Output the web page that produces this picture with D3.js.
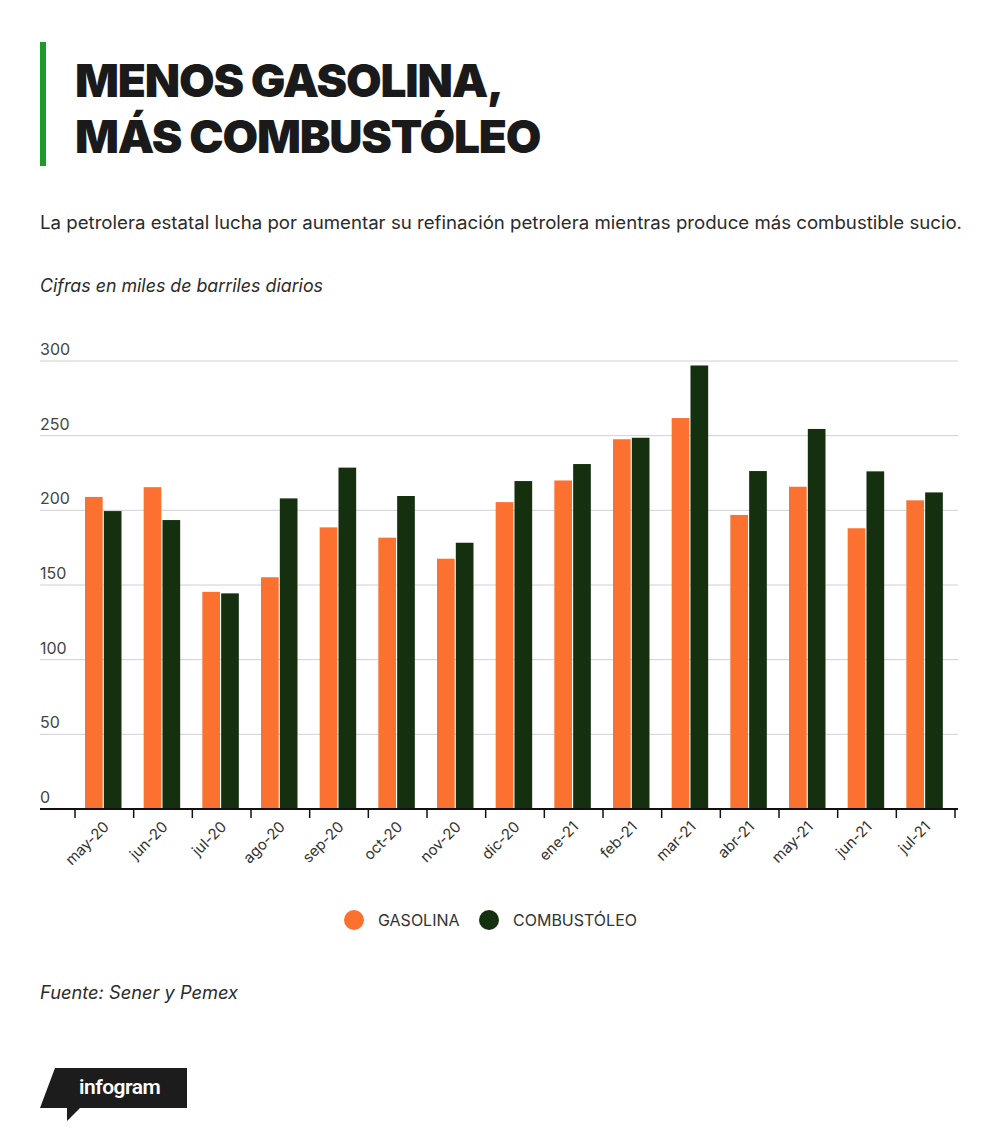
<!DOCTYPE html>
<html>
<head>
<meta charset="utf-8">
<script src="https://cdn.jsdelivr.net/npm/d3@7"></script>
<style>
  body { margin: 0; background: #fff; }
  svg { display: block; font-family: Inter, "Noto Sans", sans-serif; }
</style>
</head>
<body>
<svg id="chart" width="1000" height="1141"></svg>
<script>
// data (miles de barriles diarios)
const months = ['may-20','jun-20','jul-20','ago-20','sep-20','oct-20','nov-20','dic-20',
                'ene-21','feb-21','mar-21','abr-21','may-21','jun-21','jul-21'];
const gasolina     = [209, 215.5, 145.4, 155.2, 188.6, 181.7, 167.6, 205.5, 220, 247.6, 261.8, 196.9, 215.8, 188, 206.7];
const combustoleo  = [199.5, 193.5, 144.4, 208, 228.6, 209.6, 178.3, 219.6, 231, 248.6, 297, 226.3, 254.5, 226.1, 212];
const seriesNames  = ['GASOLINA', 'COMBUSTÓLEO'];
const colors       = ['#fd7130', '#14300f'];
const yTicks       = [0, 50, 100, 150, 200, 250, 300];

const svg = d3.select('#chart');

// title block
svg.append('rect').attr('x', 40).attr('y', 42).attr('width', 6).attr('height', 124).attr('fill', '#1d9a2b');
const title = svg.append('text').attr('x', 75).attr('fill', '#1a1a1a')
  .style('font-weight', 900).style('font-size', '46px').style('letter-spacing', '-1.2px');
title.append('tspan').attr('x', 75).attr('y', 97).text('MENOS GASOLINA,');
title.append('tspan').attr('x', 75).attr('y', 153).text('MÁS COMBUSTÓLEO');

svg.append('text').attr('x', 40).attr('y', 229).attr('fill', '#2b2b2b')
  .style('font-size', '18px')
  .attr('textLength', 922).attr('lengthAdjust', 'spacingAndGlyphs')
  .text('La petrolera estatal lucha por aumentar su refinación petrolera mientras produce más combustible sucio.');

svg.append('text').attr('x', 40).attr('y', 292).attr('fill', '#2b2b2b')
  .style('font-size', '18px').style('font-style', 'italic')
  .attr('textLength', 283).attr('lengthAdjust', 'spacingAndGlyphs')
  .text('Cifras en miles de barriles diarios');

// scales
const x0 = d3.scaleBand().domain(months).range([75, 955]);
const x1 = d3.scaleBand().domain(seriesNames).range([10, 46.5]).paddingInner(0.06);
const y = d3.scaleLinear().domain([0, 300]).range([809, 361]);

// gridlines + y labels
const grid = svg.append('g');
grid.selectAll('line').data(yTicks.filter(d => d > 0)).enter().append('line')
  .attr('x1', 40).attr('x2', 958)
  .attr('y1', d => y(d)).attr('y2', d => y(d))
  .attr('stroke', '#d0d0d0').attr('stroke-width', 1);
grid.selectAll('text').data(yTicks).enter().append('text')
  .attr('x', 40).attr('y', d => y(d) - 6)
  .attr('fill', '#444').style('font-size', '16px')
  .text(d => d);

// bars
const rows = months.map((m, i) => ({ m, vals: [gasolina[i], combustoleo[i]] }));
const groups = svg.append('g').selectAll('g').data(rows).enter().append('g')
  .attr('transform', d => `translate(${x0(d.m)},0)`);
groups.selectAll('rect').data(d => d.vals.map((v, j) => ({ k: seriesNames[j], v, j }))).enter().append('rect')
  .attr('x', d => x1(d.k))
  .attr('width', x1.bandwidth())
  .attr('y', d => y(d.v))
  .attr('height', d => y(0) - y(d.v))
  .attr('fill', d => colors[d.j]);

// x axis
svg.append('line').attr('x1', 40).attr('x2', 958).attr('y1', y(0)).attr('y2', y(0))
  .attr('stroke', '#111').attr('stroke-width', 2);
const bounds = months.map(m => x0(m)).concat([x0.range()[1]]);
svg.append('g').selectAll('line').data(bounds).enter().append('line')
  .attr('x1', d => d).attr('x2', d => d).attr('y1', y(0)).attr('y2', y(0) + 9)
  .attr('stroke', '#111').attr('stroke-width', 1.5);
svg.append('g').selectAll('text').data(months).enter().append('text')
  .attr('transform', d => `translate(${x0(d) + x0.bandwidth() / 2 + 2},${y(0) + 15}) rotate(-45)`)
  .attr('text-anchor', 'end').attr('dy', '0.35em')
  .attr('fill', '#333').style('font-size', '15px')
  .text(d => d);

// legend
const legend = svg.append('g');
const legendX = [354, 489];
seriesNames.forEach((s, i) => {
  legend.append('circle').attr('cx', legendX[i]).attr('cy', 920).attr('r', 10).attr('fill', colors[i]);
  legend.append('text').attr('x', legendX[i] + 24).attr('y', 926)
    .attr('fill', '#333').style('font-size', '16px').text(s);
});

svg.append('text').attr('x', 40).attr('y', 999).attr('fill', '#2b2b2b')
  .style('font-size', '18px').style('font-style', 'italic')
  .attr('textLength', 198).attr('lengthAdjust', 'spacingAndGlyphs')
  .text('Fuente: Sener y Pemex');

// infogram badge
svg.append('path')
  .attr('d', 'M55,1068 L187,1068 L187,1108 L80,1108 L67,1121 L67,1108 L40,1108 Z')
  .attr('fill', '#1c1c1c');
svg.append('text').attr('x', 79).attr('y', 1094).attr('fill', '#fff')
  .style('font-size', '21px').style('font-weight', 600).style('letter-spacing', '-0.5px')
  .style('font-family', '"Roboto", sans-serif')
  .text('infogram');
</script>
</body>
</html>
